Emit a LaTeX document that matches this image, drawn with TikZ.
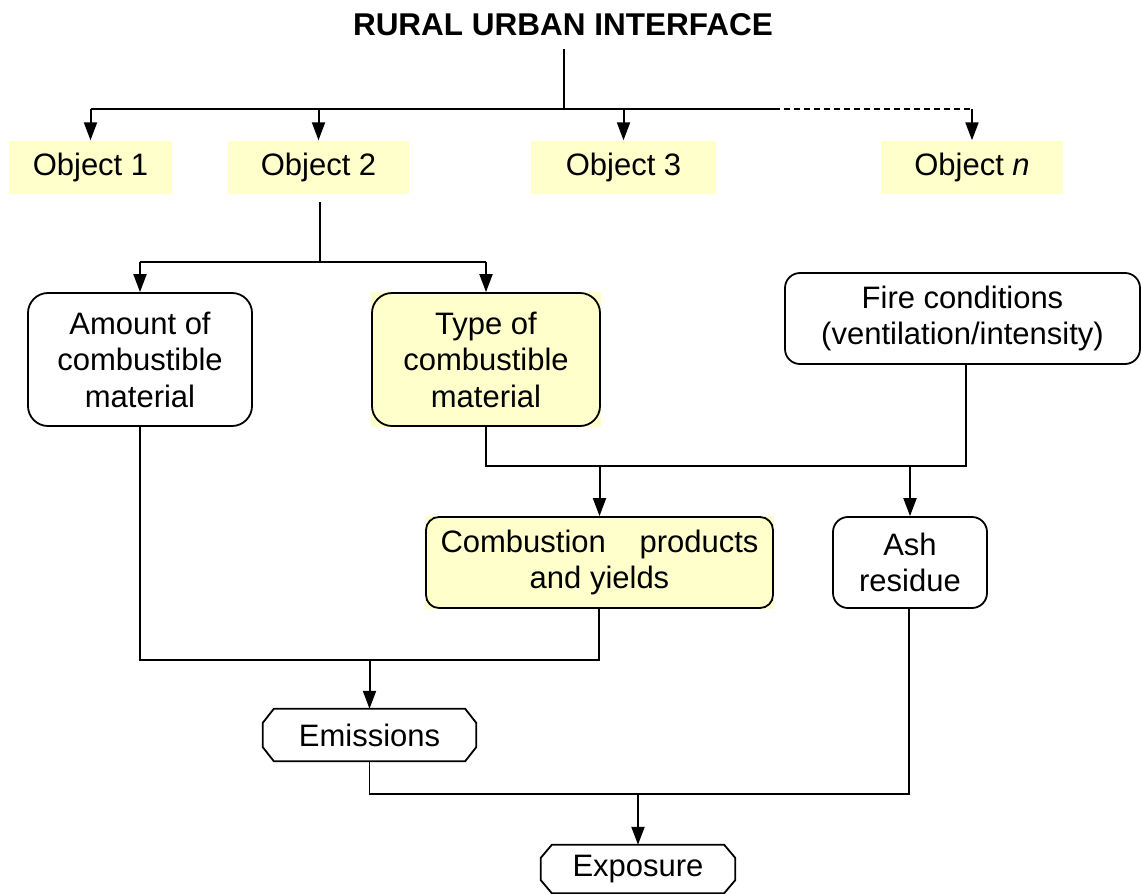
\documentclass[tikz,border=0pt]{standalone}
\usepackage{fontspec}
\setmainfont{Liberation Sans}
\usetikzlibrary{arrows.meta,calc,backgrounds}
\definecolor{lyellow}{HTML}{FFFFCC}
\begin{document}
\begin{tikzpicture}[x=1pt,y=-1pt,
  every node/.style={font=\fontsize{31}{36.5}\selectfont, inner sep=0pt, align=center},
  conn/.style={line width=1.6pt},
  arr/.style={line width=2pt,-{Triangle[length=18pt,width=13pt]}},
  objbox/.style={fill=lyellow, minimum height=53pt},
  rbox/.style={draw, line width=1.8pt, rounded corners=#1},
  rbox/.default=20pt,
  chamf/.style={line width=1.8pt}
]
\useasboundingbox (0,0) rectangle (1141,894);

% title
\node[font=\fontsize{31.5}{36}\selectfont\bfseries] (title) at (563,25) {RURAL URBAN INTERFACE};
\coordinate (tstart) at (564,49);
\coordinate (top) at (564,109);
\coordinate (dstart) at (774,109);

% objects
\node[objbox, minimum width=163pt] (obj1) at (90.5,167) {Object 1};
\node[objbox, minimum width=181pt] (obj2) at (318.5,167) {Object 2};
\node[objbox, minimum width=185pt] (obj3) at (623.5,167) {Object 3};
\node[objbox, minimum width=182pt] (objn) at (972,167) {Object \textit{n}};

\draw[conn] (tstart) -- (top);
\draw[conn] (obj1.north |- top) -- (dstart);
\draw[conn, dash pattern=on 6pt off 4pt] (dstart) -- (objn.north |- top);
\draw[arr] (obj1.north |- top) -- (obj1.north);
\draw[arr] (obj2.north |- top) -- (obj2.north);
\draw[arr] (obj3.north |- top) -- (obj3.north);
\draw[arr] (objn.north |- top) -- (objn.north);

% second level
\node[rbox, minimum width=224pt, minimum height=133pt] (amount) at (140,359.5) {Amount of\\combustible\\material};
\node[rbox, fill=lyellow, minimum width=228pt, minimum height=133pt] (type) at (486,359.5) {Type of\\combustible\\material};
\node[rbox=15pt, minimum width=355pt, minimum height=91pt] (fire) at (962.5,318.5) {Fire conditions\\(ventilation/intensity)};

\coordinate (o2s) at (320,202);
\coordinate (j2) at (320,262);
\draw[conn] (o2s) -- (j2);
\draw[conn] (amount.north |- j2) -- (type.north |- j2);
\draw[arr] (amount.north |- j2) -- (amount.north);
\draw[arr] (type.north |- j2) -- (type.north);

% third level
\node[rbox=13pt, fill=lyellow, minimum width=347pt, minimum height=91pt] (comb) at (599.5,562.5) {\makebox[318pt][s]{Combustion products}\\and yields};
\node[rbox=15pt, minimum width=154pt, minimum height=91pt] (ash) at (910,562.5) {Ash\\residue};

\begin{pgfonlayer}{background}
  \fill[lyellow] (type.north west) rectangle (type.south east);
  \fill[lyellow] (comb.north west) rectangle (comb.south east);
\end{pgfonlayer}

\coordinate (j3) at (966,466);
\draw[conn] (type.south) -- (type.south |- j3) -- (j3) -- (fire.south -| j3);
\draw[arr] (comb.north |- j3) -- (comb.north);
\draw[arr] (ash.north |- j3) -- (ash.north);

% emissions
\node[minimum width=213pt, minimum height=52pt] (emis) at (369.5,735) {Emissions};
\draw[chamf] ([xshift=11pt]emis.north west) -- ([xshift=-11pt]emis.north east) -- ([yshift=-14pt]emis.north east) -- ([yshift=14pt]emis.south east) -- ([xshift=-11pt]emis.south east) -- ([xshift=11pt]emis.south west) -- ([yshift=14pt]emis.south west) -- ([yshift=-14pt]emis.north west) -- cycle;

\coordinate (j4) at (599,660);
\draw[conn] (amount.south) -- (amount.south |- j4) -- (j4) -- (comb.south -| j4);
\draw[arr] (emis.north |- j4) -- (emis.north);

% exposure
\node[minimum width=194pt, minimum height=48pt] (expo) at (638,869) {Exposure};
\draw[chamf] ([xshift=11pt]expo.north west) -- ([xshift=-11pt]expo.north east) -- ([yshift=-13pt]expo.north east) -- ([yshift=13pt]expo.south east) -- ([xshift=-11pt]expo.south east) -- ([xshift=11pt]expo.south west) -- ([yshift=13pt]expo.south west) -- ([yshift=-13pt]expo.north west) -- cycle;

\coordinate (j5) at (909,794);
\draw[conn] (emis.south) -- (emis.south |- j5) -- (j5) -- (ash.south -| j5);
\draw[arr] (expo.north |- j5) -- (expo.north);
\end{tikzpicture}
\end{document}
